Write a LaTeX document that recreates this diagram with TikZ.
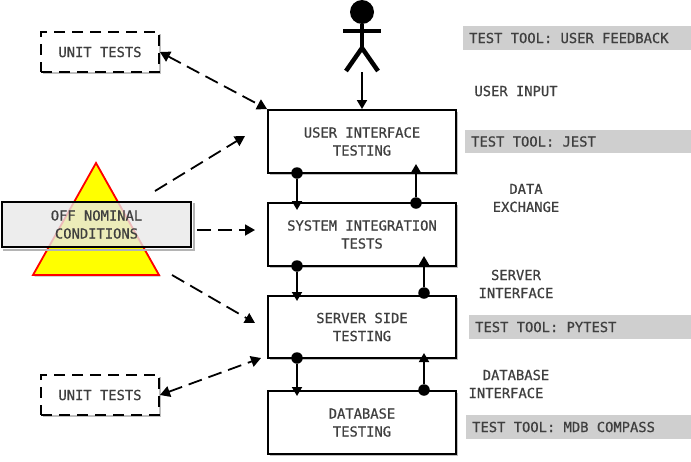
\documentclass[tikz,border=0pt]{standalone}
\usepackage{fontspec}
\setmainfont{DejaVu Sans Mono}[RawFeature={embolden=0.7}]
\usetikzlibrary{arrows.meta,shadows}
\definecolor{labelgray}{HTML}{3F3F3F}
\definecolor{barfill}{HTML}{CFCFCF}
\definecolor{warnyellow}{HTML}{FFFF00}
\definecolor{warnred}{HTML}{FF0000}
\definecolor{shadowgray}{HTML}{B4B4B4}
\tikzset{
  softshadow/.style={drop shadow={shadow xshift=1.5pt,shadow yshift=-1.5pt,fill=black,opacity=.25}},
  testbox/.style={rectangle,draw=black,line width=1.9pt,fill=white,minimum width=188pt,minimum height=63pt,align=center,text=labelgray,softshadow},
  unitbox/.style={rectangle,draw=black,line width=1.9pt,dash pattern=on 11pt off 7pt,fill=white,minimum width=118pt,minimum height=40pt,text=labelgray,softshadow},
  toolbar/.style={rectangle,fill=barfill,anchor=west,minimum height=23.5pt,inner ysep=0pt,inner xsep=6pt,text=labelgray},
  note/.style={text=labelgray,align=center,inner sep=0pt},
  joint/.style={circle,fill=black,minimum size=11.5pt,inner sep=0pt},
  flow/.style={line width=1.8pt,-{Triangle[width=10pt,length=9pt]}},
  scenario/.style={line width=1.8pt,dash pattern=on 14pt off 7pt,-{Triangle[width=11pt,length=10pt]}},
  twoway/.style={line width=1.8pt,dash pattern=on 14pt off 7pt,{Triangle[width=11pt,length=10pt]}-{Triangle[width=11pt,length=10pt]}},
}
\begin{document}
\begin{tikzpicture}[x=1pt,y=-1pt,node distance=93pt,font=\fontsize{13.8}{18}\selectfont]
  \useasboundingbox (0,0) rectangle (691,461);

  \node[testbox] (ui) at (362,141.5) {USER INTERFACE\\TESTING};
  \node[testbox] (system) [below of=ui] {SYSTEM INTEGRATION\\TESTS};
  \node[testbox,minimum height=62pt] (server) [below of=system,yshift=.5pt] {SERVER SIDE\\TESTING};
  \node[testbox] (database) [below of=server,yshift=-2.5pt] {DATABASE\\TESTING};

  \node[unitbox] (unittop) at (100,52) {UNIT TESTS};
  \node[unitbox] (unitbottom) at (100,395) {UNIT TESTS};

  % warning triangle with the label bar over it
  \draw[draw=warnred,line width=1.8pt,line join=miter,fill=warnyellow,softshadow] (96,163) -- (33,275) -- (159,275) -- cycle;
  \node[rectangle,draw=black,line width=1.9pt,fill=black!9,fill opacity=.8,text opacity=1,
    minimum width=189pt,minimum height=45pt,align=center,text=labelgray] (offnominal) at (96.5,224.5) {OFF NOMINAL\\CONDITIONS};
  \draw[shadowgray,line width=1.5pt] ([shift={(2,2)}]offnominal.south west) -- ([shift={(2,2)}]offnominal.south east) -- ([shift={(2,2)}]offnominal.north east);

  % user
  \node[circle,fill=black,minimum size=24pt,inner sep=0pt] (head) at (362,12) {};
  \coordinate (hip) at (362,48);
  \draw[line width=4.5pt] (head) -- (hip);
  \draw[line width=4.5pt] (343,31) -- (381,31);
  \draw[line width=4.5pt] (346,71) -- (hip) -- (378,71);
  \coordinate (feet) at (362,72);
  \draw[flow] (feet) -- (ui.north);

  % links between the layers
  \node[joint] (dA) at (297,173) {};
  \node[joint] (dB) at (297,266) {};
  \node[joint] (dC) at (297,358) {};
  \node[joint] (uA) at (416,203) {};
  \node[joint] (uB) at (424,293) {};
  \node[joint] (uC) at (424,390) {};
  \coordinate (dAend) at (297,210);
  \coordinate (dBend) at (297,301);
  \coordinate (dCend) at (297,396);
  \coordinate (uAend) at (416,164);
  \coordinate (uBend) at (424,256);
  \coordinate (uCend) at (424,353);
  \draw[flow] (dA) -- (dAend);
  \draw[flow] (dB) -- (dBend);
  \draw[flow] (dC) -- (dCend);
  \draw[flow] (uA) -- (uAend);
  \draw[flow] (uB) -- (uBend);
  \draw[flow] (uC) -- (uCend);

  % dashed arrows
  \coordinate (offA) at (155,191);
  \coordinate (offAend) at (245,136);
  \coordinate (offB) at (197,230);
  \coordinate (offBend) at (255,230);
  \coordinate (offC) at (172,275);
  \coordinate (offCend) at (255,323);
  \coordinate (unitend) at (261,358);
  \draw[scenario] (offA) -- (offAend);
  \draw[scenario] (offB) -- (offBend);
  \draw[scenario] (offC) -- (offCend);
  \draw[twoway] (unittop.east) -- (ui.north west);
  \draw[twoway] (unitbottom.east) -- (unitend);

  % notes on the right
  \node[note] (userinput) at (516,91) {USER INPUT};
  \node[note] (dataexchange) at (526,198) {DATA\\EXCHANGE};
  \node[note] (serverif) at (516,284) {SERVER\\INTERFACE};
  \node[note] (dbname) at (516,375) {DATABASE};
  \node[note] (dbif) at (506,393) {INTERFACE};

  \node[toolbar] (toolfeedback) at (463,38) {\makebox[216pt][l]{TEST TOOL: USER FEEDBACK}};
  \node[toolbar] (tooljest) at (465,141.5) {\makebox[214pt][l]{TEST TOOL: JEST}};
  \node[toolbar] (toolpytest) at (469,327) {\makebox[210pt][l]{TEST TOOL: PYTEST}};
  \node[toolbar] (toolmdb) at (466,427) {\makebox[213pt][l]{TEST TOOL: MDB COMPASS}};
\end{tikzpicture}
\end{document}
